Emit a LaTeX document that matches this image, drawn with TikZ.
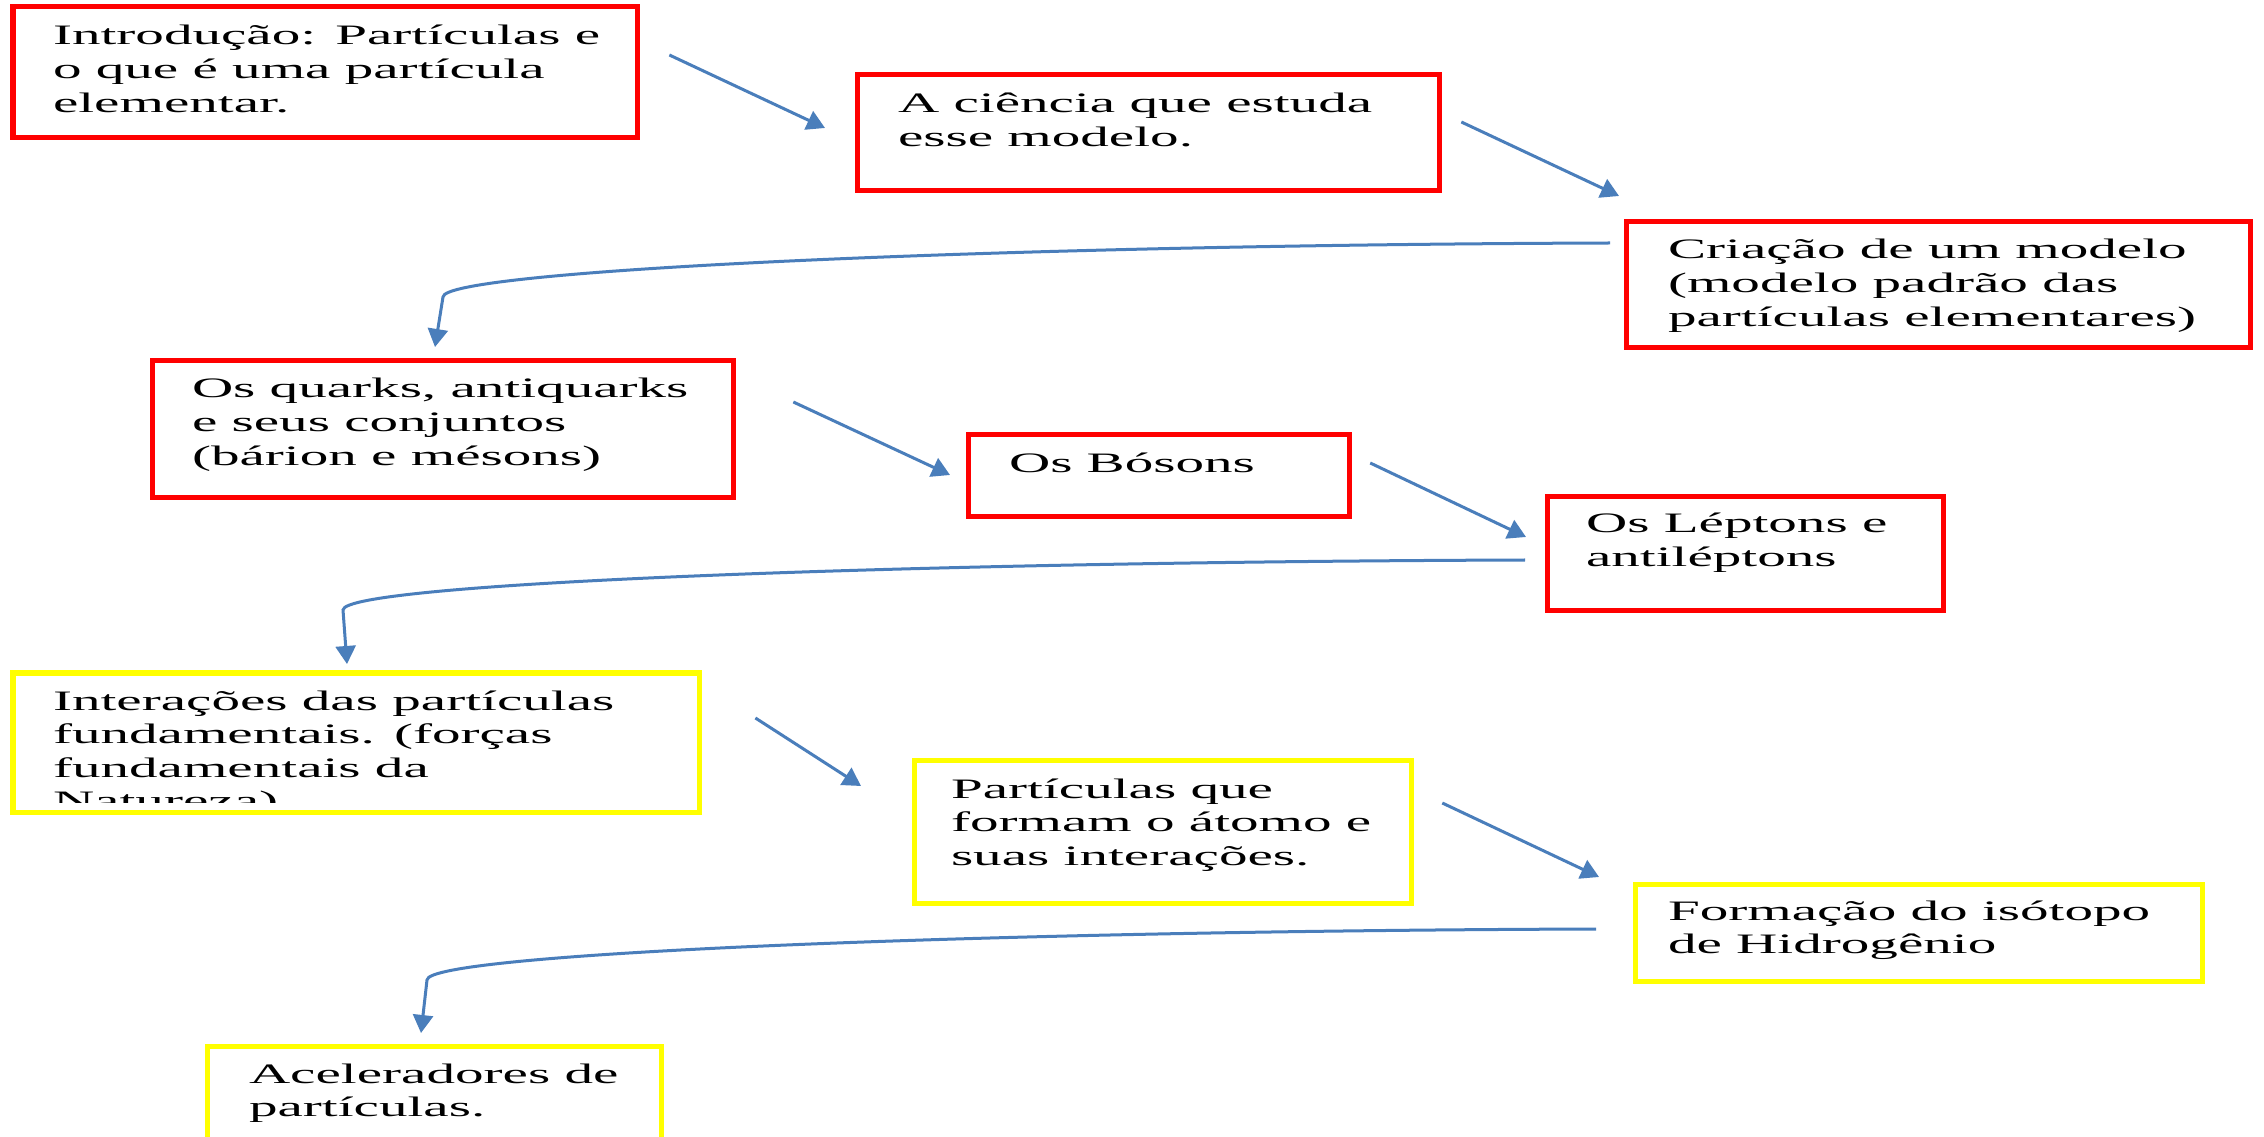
\documentclass[tikz,border=0pt]{standalone}
\usepackage{fontspec}
\setmainfont{Liberation Serif}[FakeStretch=2.03]
\usetikzlibrary{calc,arrows.meta}
\definecolor{boxred}{HTML}{FF0000}
\definecolor{boxyellow}{HTML}{FFFF00}
\definecolor{flowblue}{HTML}{4A7EBB}
\newcommand\textlines[1]{\begin{tabular}[t]{@{}l@{}}#1\end{tabular}}

\begin{document}
\begin{tikzpicture}[x=0.01cm,y=-0.01cm,
  panel/.style={rectangle, line width=0.05cm, anchor=north west, inner sep=0pt, outer sep=0pt, fill=white},
  redpanel/.style={panel, draw=boxred},
  yellowpanel/.style={panel, draw=boxyellow},
  boxtext/.style={anchor=base west, inner sep=0pt, outer sep=0pt, font=\fontsize{8}{9.55}\selectfont},
  flowlink/.style={draw=flowblue, line width=0.03cm, -{Triangle[length=0.18cm,width=0.2cm]}}
]
\useasboundingbox (0,0) rectangle (2264,1137);
\clip (0,0) rectangle (2264,1137);
\fill[white] (0,0) rectangle (2264,1137);

% boxes of the first group (red)
\node[redpanel, minimum width=6.24cm, minimum height=1.30cm] (b1) at (13,7) {};
\node[redpanel, minimum width=5.82cm, minimum height=1.15cm] (b2) at (857,75) {};
\node[redpanel, minimum width=6.24cm, minimum height=1.25cm] (b3) at (1626,222) {};
\node[redpanel, minimum width=5.81cm, minimum height=1.36cm] (b4) at (152,361) {};
\node[redpanel, minimum width=3.81cm, minimum height=0.81cm] (b5) at (968,435) {};
\node[redpanel, minimum width=3.96cm, minimum height=1.13cm] (b6) at (1547,497) {};
% boxes of the later group (yellow)
\node[yellowpanel, minimum width=6.86cm, minimum height=1.39cm] (b7) at (13,673) {};
\node[yellowpanel, minimum width=4.97cm, minimum height=1.43cm] (b8) at (914,760) {};
\node[yellowpanel, minimum width=5.67cm, minimum height=0.97cm] (b9) at (1635,884) {};
\node[yellowpanel, minimum width=4.54cm, minimum height=1.40cm] (b10) at (207,1046) {};

% texts
\node[boxtext] (t1) at ($(b1.north west)+(40,38)$) {\textlines{Introdução: Partículas e\\o que é uma partícula\\elementar.}};
\node[boxtext] (t2) at ($(b2.north west)+(41,38)$) {\textlines{A ciência que estuda\\esse modelo.}};
\node[boxtext] (t3) at ($(b3.north west)+(42,37)$) {\textlines{Criação de um modelo\\(modelo padrão das\\partículas elementares)}};
\node[boxtext] (t4) at ($(b4.north west)+(40,37)$) {\textlines{Os quarks, antiquarks\\e seus conjuntos\\(bárion e mésons)}};
\node[boxtext] (t5) at ($(b5.north west)+(41,38)$) {\textlines{Os Bósons}};
\node[boxtext] (t6) at ($(b6.north west)+(39,36)$) {\textlines{Os Léptons e\\antiléptons}};
\begin{scope}
  \clip ($(b7.north west)+(3,3)$) rectangle ($(b7.south east)+(-3,-10)$);
  \node[boxtext] (t7) at ($(b7.north west)+(40,37)$) {\textlines{Interações das partículas\\fundamentais. (forças\\fundamentais da\\Natureza)}};
\end{scope}
\node[boxtext] (t8) at ($(b8.north west)+(37,38)$) {\textlines{Partículas que\\formam o átomo e\\suas interações.}};
\node[boxtext] (t9) at ($(b9.north west)+(33,36)$) {\textlines{Formação do isótopo\\de Hidrogênio}};
\node[boxtext] (t10) at ($(b10.north west)+(42,37)$) {\textlines{Aceleradores de\\partículas.}};

% straight links
\draw[flowlink] ($(b1.north east)+(32,48)$) -- ($(b2.north west)+(-32,53)$);
\draw[flowlink] ($(b2.north east)+(22,47)$) -- ($(b3.north west)+(-7,-26)$);
\draw[flowlink] ($(b4.north east)+(60,41)$) -- ($(b5.north west)+(-18,40)$);
\draw[flowlink] ($(b5.north east)+(21,28)$) -- ($(b6.north west)+(-21,40)$);
\draw[flowlink] ($(b7.north east)+(56,45)$) -- ($(b8.north west)+(-53,26)$);
\draw[flowlink] ($(b8.north east)+(31,43)$) -- ($(b9.north west)+(-36,-7)$);

% curved links back to the left margin
\coordinate (s1) at ($(b3.north west)+(-16,21)$);
\coordinate (k1) at ($(b4.north west)+(291,-64)$);
\coordinate (e1) at ($(b4.north west)+(283,-14)$);
\coordinate (s2) at ($(b6.north west)+(-22,63)$);
\coordinate (k2) at ($(b7.north west)+(330,-63)$);
\coordinate (e2) at ($(b7.north west)+(334,-9)$);
\coordinate (s3) at ($(b9.north west)+(-39,45)$);
\coordinate (k3) at ($(b10.north west)+(220,-66)$);
\coordinate (e3) at ($(b10.north west)+(214,-13)$);
\draw[flowlink] (s1) .. controls +(-610,2) and +(0,-27) .. (k1) -- (e1);
\draw[flowlink] (s2) .. controls +(-615,2) and +(0,-27) .. (k2) -- (e2);
\draw[flowlink] (s3) .. controls +(-608,2) and +(0,-27) .. (k3) -- (e3);
\end{tikzpicture}
\end{document}
